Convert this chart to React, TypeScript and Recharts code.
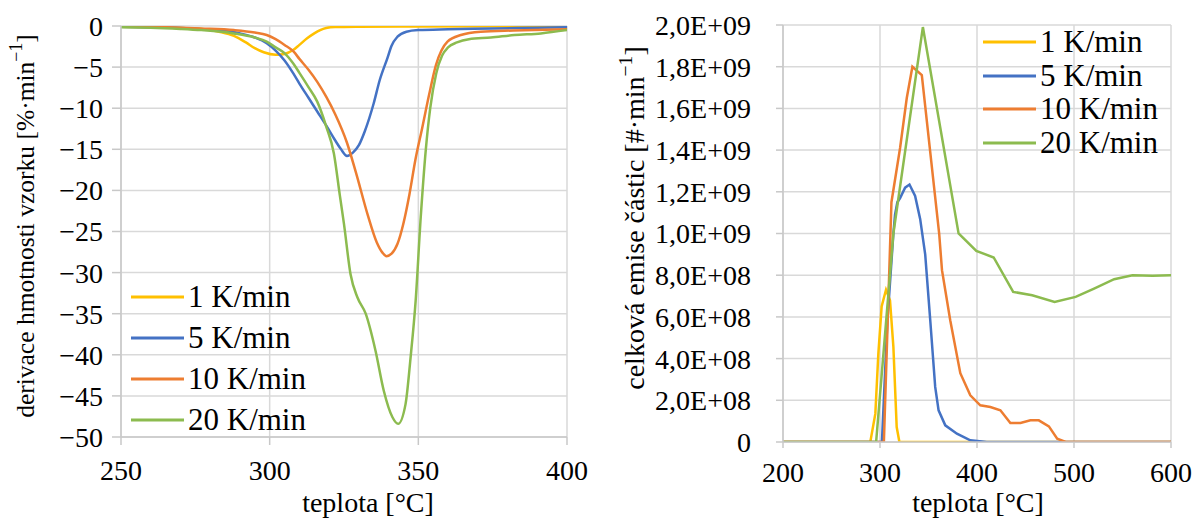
import { CartesianGrid, Label, Legend, Line, LineChart, XAxis, YAxis } from "recharts";

const seriesNames = ["1 K/min", "5 K/min", "10 K/min", "20 K/min"];
const seriesColors = ["#FFC000", "#4472C4", "#ED7D31", "#8CBB4F"];

// DTG curves: temperature [°C] -> derivative [%/min]
const dtgT1 = [250, 260, 270, 277, 283, 288, 292, 295, 298, 302, 305, 308, 310, 312.6, 315, 317, 319, 322, 330, 350, 375, 400];
const dtgV1 = [-0.1, -0.15, -0.25, -0.35, -0.7, -1.2, -2.0, -2.7, -3.2, -3.5, -3.4, -2.9, -2.3, -1.5, -0.9, -0.5, -0.25, -0.12, -0.08, -0.05, -0.03, -0.02];
const dtgT5 = [250, 260, 270, 277, 285, 290, 295, 299, 302, 305, 308, 310, 313, 316, 319, 322, 324, 326, 328, 330, 332, 335, 337, 339.6, 341, 343, 346, 350, 360, 375, 390, 400];
const dtgV5 = [-0.1, -0.15, -0.25, -0.4, -0.55, -0.9, -1.4, -2.1, -3.0, -4.2, -5.8, -7.0, -8.7, -10.4, -12.1, -13.9, -15.0, -15.8, -15.4, -14.5, -12.8, -9.4, -6.6, -3.9, -2.4, -1.3, -0.7, -0.5, -0.4, -0.3, -0.2, -0.15];
const dtgT10 = [250, 260, 270, 277, 288, 295, 299, 302, 305, 308, 310, 313, 316, 319, 322, 326, 329, 333, 336, 338, 339.3, 341, 343, 345, 347, 349, 351.3, 353.6, 355.9, 359.8, 364.3, 371, 382, 400];
const dtgV10 = [-0.05, -0.1, -0.2, -0.3, -0.5, -0.8, -1.1, -1.6, -2.3, -3.1, -4.0, -5.3, -6.8, -8.6, -10.7, -14.2, -17.8, -23.0, -26.3, -27.6, -28.0, -27.7, -26.5, -24.0, -20.5, -16.3, -12.4, -8.4, -4.8, -1.9, -1.1, -0.7, -0.55, -0.4];
const dtgT20 = [250, 260, 270, 277, 288, 295, 299, 302, 305, 308, 310, 313, 316, 319, 321.6, 323.6, 325, 327.2, 329.5, 332.3, 335.6, 338.4, 341.3, 343.2, 345.7, 347.4, 349.1, 350.8, 352.5, 354, 356, 358, 360, 363, 367, 374.4, 382.3, 391.2, 400];
const dtgV20 = [-0.15, -0.2, -0.35, -0.5, -0.9, -1.4, -1.9, -2.6, -3.3, -4.6, -5.7, -7.4, -9.2, -12.2, -15.5, -20.6, -24.1, -30.2, -33.0, -35.0, -39.5, -44.4, -47.6, -48.4, -46.0, -40.3, -33.4, -23.3, -15.1, -10.0, -5.8, -3.6, -2.6, -2.0, -1.6, -1.4, -1.1, -0.9, -0.5];

// particle emission: temperature [°C] -> count [#/min]
const pnT1 = [200, 290, 295.2, 298.3, 301.7, 306.2, 310.3, 313.8, 317.2, 320, 600];
const pnV1 = [0, 0, 1.36e8, 4.24e8, 6.5e8, 7.3e8, 6.8e8, 4.56e8, 7.2e7, 0, 0];
const pnT5 = [200, 302, 307.6, 313.8, 315.5, 317.9, 320.7, 325.9, 330.4, 336.2, 341.4, 346.6, 351.8, 356.9, 360.4, 367.3, 379.3, 393.1, 410, 600];
const pnV5 = [0, 0, 5.8e8, 1.0e9, 1.09e9, 1.15e9, 1.17e9, 1.22e9, 1.235e9, 1.18e9, 1.07e9, 9.0e8, 5.84e8, 2.64e8, 1.52e8, 8e7, 4e7, 8e6, 0, 0];
const pnT10 = [200, 304, 311.8, 320.7, 327.6, 333.4, 343.1, 361, 363.9, 372.4, 382.8, 393.1, 403.4, 413.8, 424.1, 434.4, 444.8, 455.1, 463.7, 474.1, 482.7, 491.4, 600];
const pnV10 = [0, 0, 1.15e9, 1.41e9, 1.65e9, 1.8e9, 1.76e9, 1.0e9, 8.24e8, 5.84e8, 3.3e8, 2.24e8, 1.76e8, 1.68e8, 1.52e8, 9.1e7, 9.1e7, 1.04e8, 1.04e8, 7.5e7, 1.6e7, 0, 0];
const pnT20 = [200, 296, 313.8, 344.2, 381, 399.3, 417.2, 437.3, 456.9, 480, 501.7, 520.7, 541.4, 560.3, 581, 600];
const pnV20 = [0, 0, 1.0e9, 1.99e9, 1.0e9, 9.17e8, 8.85e8, 7.2e8, 7.04e8, 6.72e8, 6.96e8, 7.36e8, 7.81e8, 8.0e8, 7.97e8, 8.0e8];

const dtgXTicks = [250, 300, 350, 400];
const dtgYTicks = [-50, -45, -40, -35, -30, -25, -20, -15, -10, -5, 0];
const pnXTicks = [200, 300, 400, 500, 600];
const pnYTicks = [0, 2e8, 4e8, 6e8, 8e8, 1e9, 1.2e9, 1.4e9, 1.6e9, 1.8e9, 2e9];

const zip = (xs: number[], ys: number[]) => xs.map((x, i) => ({ x, y: ys[i] }));
const range = (a: number, b: number, step: number) => {
  const out: number[] = [];
  for (let v = a; v <= b + step / 2; v += step) out.push(Number(v.toPrecision(10)));
  return out;
};

const dtgData = [zip(dtgT1, dtgV1), zip(dtgT5, dtgV5), zip(dtgT10, dtgV10), zip(dtgT20, dtgV20)];
const pnData = [zip(pnT1, pnV1), zip(pnT5, pnV5), zip(pnT10, pnV10), zip(pnT20, pnV20)];

const FONT = "Liberation Serif, Tinos, Times New Roman, DejaVu Serif, Noto Serif, serif";
const GRID = "#d9d9d9";
const AXIS = "#c8c8c8";
const tickStyle = { fill: "#000", fontSize: 28, fontFamily: FONT };

const fmtDtg = (v: number) => (v === 0 ? "0" : "\u2212" + Math.abs(v));
const fmtSci = (v: number) => {
  if (v === 0) return "0";
  const [m, e] = v.toExponential(1).split("e");
  return m.replace(".", ",") + "E" + e[0] + e.slice(1).padStart(2, "0");
};

function legendContent(rowH: number) {
  return () => (
    <div style={{ fontFamily: FONT, fontSize: 31, color: "#000" }}>
      {seriesNames.map((n, i) => (
        <div key={n} style={{ display: "flex", alignItems: "center", height: rowH, whiteSpace: "nowrap" }}>
          <svg width={53} height={4}>
            <line x1={0} y1={2} x2={53} y2={2} stroke={seriesColors[i]} strokeWidth={3} />
          </svg>
          <span style={{ marginLeft: 4 }}>{n}</span>
        </div>
      ))}
    </div>
  );
}

const xLabel = (cx: number) => () => (
  <text x={cx} y={512} textAnchor="middle" fontSize={28} fontFamily={FONT} fill="#000">
    teplota [°C]
  </text>
);

const yLabel = (cx: number, cy: number, size: number, text: string) => () => (
  <text
    x={cx}
    y={cy}
    transform={`rotate(-90, ${cx}, ${cy})`}
    textAnchor="middle"
    dominantBaseline="central"
    fontSize={size}
    fontFamily={FONT}
    fill="#000"
  >
    {text}
    <tspan dy={-9} fontSize={size * 0.7}>
      {"\u22121"}
    </tspan>
    <tspan dy={9}>]</tspan>
  </text>
);

function DtgChart() {
  return (
    <LineChart width={600} height={518} margin={{ top: 26, right: 33, bottom: 0, left: 0 }}>
      <CartesianGrid stroke={GRID} strokeWidth={1.5} />
      <XAxis
        type="number"
        dataKey="x"
        domain={[250, 400]}
        ticks={dtgXTicks}
        height={81}
        tick={tickStyle}
        tickSize={8}
        tickMargin={15}
        stroke={AXIS}
        strokeWidth={1.5}
        allowDataOverflow
        label={<Label content={xLabel(368)} />}
      />
      <XAxis
        xAxisId="minor"
        type="number"
        dataKey="x"
        domain={[250, 400]}
        ticks={range(250, 400, 10)}
        mirror
        tick={false}
        tickSize={6}
        axisLine={false}
        stroke={AXIS}
        allowDataOverflow
      />
      <YAxis
        type="number"
        domain={[-50, 0]}
        ticks={dtgYTicks}
        width={121}
        tick={tickStyle}
        tickFormatter={fmtDtg}
        tickSize={9}
        tickMargin={9}
        stroke={AXIS}
        strokeWidth={1.5}
        allowDataOverflow
        label={<Label content={yLabel(25, 226, 25.5, "derivace hmotnosti vzorku [%·min")} />}
      />
      <YAxis
        yAxisId="minor"
        type="number"
        domain={[-50, 0]}
        ticks={range(-50, 0, 1)}
        mirror
        tick={false}
        tickSize={6}
        axisLine={false}
        stroke={AXIS}
        allowDataOverflow
      />
      {dtgData.map((d, i) => (
        <Line
          key={seriesNames[i]}
          data={d}
          dataKey="y"
          name={seriesNames[i]}
          type="monotone"
          stroke={seriesColors[i]}
          strokeWidth={2.5}
          dot={false}
          isAnimationActive={false}
        />
      ))}
      <Legend
        layout="vertical"
        align="center"
        verticalAlign="middle"
        content={legendContent(41)}
        wrapperStyle={{ left: 131, top: 276, width: "auto", height: "auto" }}
      />
    </LineChart>
  );
}

function PnChart() {
  return (
    <LineChart width={600} height={518} margin={{ top: 25, right: 29, bottom: 0, left: 0 }}>
      <CartesianGrid stroke={GRID} strokeWidth={1.5} />
      <XAxis
        type="number"
        dataKey="x"
        domain={[200, 600]}
        ticks={pnXTicks}
        height={76}
        tick={tickStyle}
        tickSize={6}
        tickMargin={14}
        stroke={AXIS}
        strokeWidth={1.5}
        allowDataOverflow
        label={<Label content={xLabel(378)} />}
      />
      <XAxis
        xAxisId="minor"
        type="number"
        dataKey="x"
        domain={[200, 600]}
        ticks={range(200, 600, 10)}
        mirror
        tick={false}
        tickSize={6}
        axisLine={false}
        stroke={AXIS}
        allowDataOverflow
      />
      <YAxis
        type="number"
        domain={[0, 2e9]}
        ticks={pnYTicks}
        width={183}
        tick={tickStyle}
        tickFormatter={fmtSci}
        tickSize={7}
        tickMargin={25}
        stroke={AXIS}
        strokeWidth={1.5}
        allowDataOverflow
        label={<Label content={yLabel(34, 218, 28, "celková emise částic [#·min")} />}
      />
      <YAxis
        yAxisId="minor"
        type="number"
        domain={[0, 2e9]}
        ticks={range(0, 2e9, 4e7)}
        mirror
        tick={false}
        tickSize={6}
        axisLine={false}
        stroke={AXIS}
        allowDataOverflow
      />
      {pnData.map((d, i) => (
        <Line
          key={seriesNames[i]}
          data={d}
          dataKey="y"
          name={seriesNames[i]}
          type="linear"
          stroke={seriesColors[i]}
          strokeWidth={2.5}
          dot={false}
          isAnimationActive={false}
        />
      ))}
      <Legend
        layout="vertical"
        align="center"
        verticalAlign="middle"
        content={legendContent(33.7)}
        wrapperStyle={{ left: 383, top: 25, width: "auto", height: "auto" }}
      />
    </LineChart>
  );
}

export default function App() {
  return (
    <div style={{ position: "absolute", left: 0, top: 0, width: 1200, height: 518, background: "#fff" }}>
      <div style={{ position: "absolute", left: 0, top: 0 }}>
        <DtgChart />
      </div>
      <div style={{ position: "absolute", left: 600, top: 0 }}>
        <PnChart />
      </div>
    </div>
  );
}
